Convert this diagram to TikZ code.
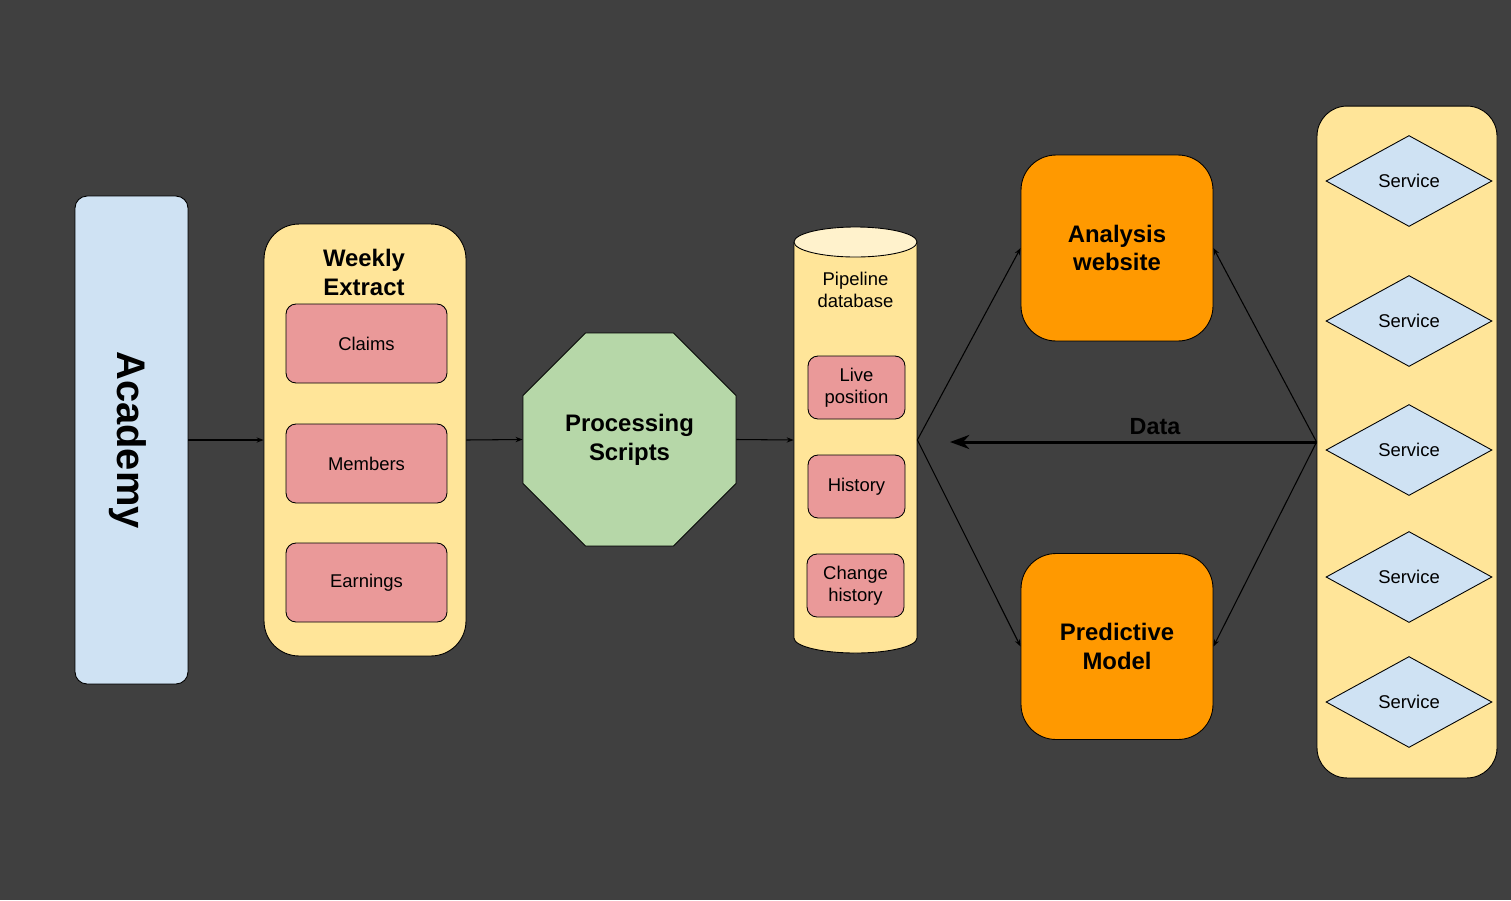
\documentclass[tikz,border=0pt]{standalone}
\usepackage{fontspec}
\setmainfont{Liberation Sans}
\usetikzlibrary{shapes.geometric,arrows.meta}

\definecolor{bgdark}{HTML}{404040}
\definecolor{paleblue}{HTML}{CFE2F3}
\definecolor{paleyellow}{HTML}{FFE599}
\definecolor{lightyellow}{HTML}{FFF2CC}
\definecolor{palered}{HTML}{EA9999}
\definecolor{palegreen}{HTML}{B6D7A8}
\definecolor{deeporange}{HTML}{FF9900}

\begin{document}
\begin{tikzpicture}[x=0.02cm,y=-0.02cm,
    box/.style={draw=black, line width=0.5pt, inner sep=0pt, align=center},
    item/.style={box, fill=palered, rounded corners=0.2cm,
        font=\fontsize{10.5}{12.5}\selectfont},
    bigbox/.style={box, fill=deeporange, rounded corners=0.7cm,
        minimum width=3.84cm, minimum height=3.72cm,
        font=\fontsize{13.6}{16.4}\selectfont\bfseries},
    service/.style={diamond, aspect=1.8, draw=black, line width=0.5pt,
        fill=paleblue, inner sep=0pt, minimum width=3.32cm, minimum height=1.82cm,
        font=\fontsize{10.5}{12.5}\selectfont},
    link/.style={line width=0.6pt, -{Stealth[length=4pt,width=3pt]}}]

    % Background
    \fill[bgdark] (0,0) rectangle (1511,900);

    % Source
    \node[box, fill=paleblue, rounded corners=0.24cm, minimum width=2.26cm,
        minimum height=9.76cm] (academy) at (131.5,440) {};
    \node[rotate=-90, font=\fontsize{22.7}{27}\selectfont\bfseries] (academylabel)
        at (127.5,440) {Academy};

    % Weekly extract
    \node[box, fill=paleyellow, rounded corners=0.7cm, minimum width=4.04cm,
        minimum height=8.64cm] (extract) at (365,440) {};
    \node[align=center, font=\fontsize{13.6}{16.4}\selectfont\bfseries] (extracttitle)
        at (364,272.5) {Weekly\\Extract};
    \foreach \name/\y in {Claims/343.5, Members/463.5, Earnings/582.5}
        \node[item, minimum width=3.22cm, minimum height=1.58cm] (\name) at (366.5,\y) {\name};

    % Processing
    \node[regular polygon, regular polygon sides=8, draw=black, line width=0.5pt,
        fill=palegreen, inner sep=0pt, minimum size=4.61cm, align=center,
        font=\fontsize{13.6}{16.4}\selectfont\bfseries] (scripts)
        at (629.5,439.5) {Processing\\Scripts};

    % Pipeline database
    \node[inner sep=0pt, minimum width=2.46cm, minimum height=8.52cm] (db) at (855.5,440) {};
    \draw[line width=0.5pt, fill=paleyellow] (794,242) -- (794,638)
        arc[start angle=180, end angle=360, x radius=1.23cm, y radius=0.3cm] -- (917,242);
    \draw[line width=0.5pt, fill=lightyellow] (855.5,242) ellipse[x radius=1.23cm, y radius=0.3cm];
    \node[align=center, font=\fontsize{10.5}{12.5}\selectfont] (dbtitle)
        at (855.5,290) {Pipeline\\database};
    \node[item, minimum width=1.94cm, minimum height=1.26cm] (live) at (856.5,387.5) {Live\\position};
    \node[item, minimum width=1.94cm, minimum height=1.26cm] (history) at (856.5,486.5) {History};
    \node[item, minimum width=1.94cm, minimum height=1.26cm] (change) at (855.5,585.5) {Change\\history};

    % Consumers
    \node[bigbox] (website) at (1117,248) {Analysis\\website};
    \node[bigbox] (model) at (1117,646.5) {Predictive\\Model};

    % Services
    \node[box, fill=paleyellow, rounded corners=0.6cm, minimum width=3.6cm,
        minimum height=13.44cm] (services) at (1407,442) {};
    \foreach \y [count=\i] in {181,321,450,577,702}
        \node[service] (svc\i) at (1409,\y) {Service};

    % Flow
    \draw[link] (academy.east) -- (extract.west);
    \draw[link] (extract.east) -- (scripts.west);
    \draw[link] (scripts.east) -- (db.west);
    \draw[link] (db.east) -- (website.west);
    \draw[link] (db.east) -- (model.west);
    \draw[link] (services.west) -- (website.east);
    \draw[link] (services.west) -- (model.east);

    % Data back to the database
    \coordinate (dataend) at (950,442);
    \draw[line width=1.7pt, -{Stealth[length=11pt,width=8pt]}] (services.west) -- (dataend);
    \node[font=\fontsize{13.3}{16}\selectfont\bfseries] (datalabel) at (1155,427) {Data};
\end{tikzpicture}
\end{document}
